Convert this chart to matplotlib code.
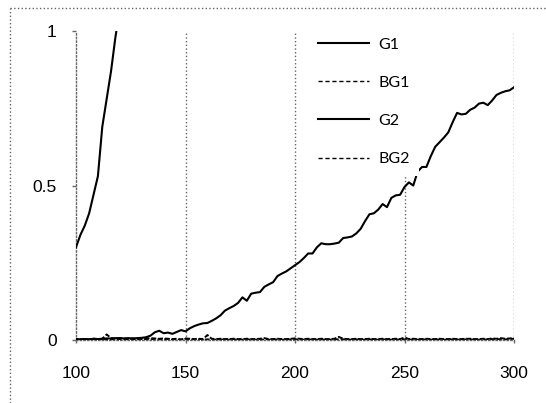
import numpy as np
import matplotlib
matplotlib.use("Agg")
import matplotlib.pyplot as plt
from matplotlib.lines import Line2D

# x positions of the samples
x = np.arange(100, 301, 2)

# G1 only shown until it leaves the top of the axes
g1_x = np.arange(100, 121, 2)
g1 = [0.30, 0.34, 0.37, 0.41, 0.47, 0.53, 0.69, 0.78, 0.87, 0.98, 1.07]

g2 = [0.003, 0.002, 0.003, 0.002, 0.004, 0.003, 0.004, 0.005, 0.005, 0.006,
      0.006, 0.005, 0.006, 0.005, 0.006, 0.007, 0.009, 0.014, 0.025, 0.030,
      0.022, 0.024, 0.020, 0.026, 0.032, 0.028, 0.038, 0.045, 0.050, 0.054,
      0.055, 0.062, 0.070, 0.080, 0.095, 0.103, 0.110, 0.120, 0.138, 0.127,
      0.150, 0.153, 0.155, 0.172, 0.180, 0.187, 0.207, 0.215, 0.222, 0.232,
      0.242, 0.252, 0.265, 0.280, 0.280, 0.300, 0.313, 0.310, 0.310, 0.312,
      0.315, 0.330, 0.332, 0.335, 0.345, 0.360, 0.385, 0.407, 0.410, 0.422,
      0.440, 0.430, 0.460, 0.468, 0.470, 0.495, 0.510, 0.500, 0.545, 0.560,
      0.560, 0.595, 0.625, 0.640, 0.655, 0.672, 0.705, 0.735, 0.730, 0.732,
      0.745, 0.752, 0.765, 0.768, 0.760, 0.775, 0.793, 0.800, 0.805, 0.808,
      0.818]

bg1 = [0.002, 0.002, 0.003, 0.002, 0.004, 0.003, 0.004, 0.018, 0.006, 0.005,
       0.006, 0.005, 0.004, 0.005, 0.003, 0.004, 0.005, 0.006, 0.005, 0.004,
       0.005, 0.004, 0.003, 0.004, 0.002, 0.005, 0.004, 0.003, 0.004, 0.003,
       0.016, 0.004, 0.003, 0.004, 0.003, 0.003, 0.004, 0.003, 0.003, 0.004,
       0.003, 0.003, 0.004, 0.006, 0.003, 0.003, 0.004, 0.003, 0.003, 0.004,
       0.005, 0.004, 0.003, 0.004, 0.003, 0.003, 0.004, 0.003, 0.003, 0.004,
       0.010, 0.004, 0.003, 0.003, 0.004, 0.003, 0.003, 0.004, 0.003, 0.003,
       0.004, 0.003, 0.003, 0.004, 0.003, 0.008, 0.003, 0.004, 0.003, 0.003,
       0.004, 0.003, 0.003, 0.004, 0.003, 0.003, 0.004, 0.003, 0.003, 0.004,
       0.004, 0.003, 0.003, 0.004, 0.003, 0.005, 0.004, 0.006, 0.004, 0.005,
       0.006]

bg2 = [0.001, 0.001, 0.002, 0.001, 0.002, 0.001, 0.002, 0.002, 0.003, 0.002,
       0.003, 0.002, 0.002, 0.003, 0.001, 0.002, 0.003, 0.002, 0.003, 0.002,
       0.003, 0.002, 0.001, 0.002, 0.000, 0.004, 0.002, 0.001, 0.002, 0.001,
       0.002, 0.001, 0.001, 0.002, 0.001, 0.001, 0.002, 0.001, 0.001, 0.002,
       0.001, 0.001, 0.002, 0.001, 0.001, 0.001, 0.002, 0.001, 0.001, 0.002,
       0.002, 0.002, 0.001, 0.002, 0.001, 0.001, 0.002, 0.001, 0.001, 0.002,
       0.002, 0.002, 0.001, 0.001, 0.002, 0.001, 0.001, 0.002, 0.001, 0.001,
       0.002, 0.001, 0.001, 0.002, 0.001, 0.002, 0.001, 0.002, 0.001, 0.001,
       0.002, 0.001, 0.001, 0.002, 0.001, 0.001, 0.002, 0.001, 0.001, 0.002,
       0.002, 0.001, 0.001, 0.002, 0.001, 0.003, 0.002, 0.003, 0.002, 0.003,
       0.004]

xticks = [100, 150, 200, 250, 300]
yticks = [0, 0.5, 1]
ytick_labels = ["0", "0.5", "1"]

W, H = 546, 403
fig = plt.figure(figsize=(W / 100, H / 100), dpi=100)
ax = fig.add_axes([76 / W, 1 - 340 / H, 438 / W, 309 / H])

grid_c = "#666666"
for xv in xticks[1:]:
    ax.axvline(xv, color=grid_c, lw=1, ls=":", zorder=1)

ax.plot(x, bg2, color="black", lw=1.4, ls=(0, (2.5, 1)), zorder=2, label="BG2")
ax.plot(x, bg1, color="black", lw=1.4, ls=(1.5, (2.5, 1)), zorder=2, label="BG1")
ax.plot(x, g2, color="black", lw=1.5, zorder=3, label="G2")
ax.plot(g1_x, g1, color="black", lw=1.5, zorder=3, label="G1")

ax.set_xlim(100, 300)
ax.set_ylim(0, 1)
ax.set_xticks(xticks)
ax.set_yticks(yticks)
ax.set_yticklabels(ytick_labels)

for s in ["top", "right"]:
    ax.spines[s].set_visible(False)
for s in ["left", "bottom"]:
    ax.spines[s].set_color(grid_c)
    ax.spines[s].set_linestyle(":")
    ax.spines[s].set_linewidth(1)

ax.tick_params(axis="y", length=3, width=1, color=grid_c, pad=11,
               labelsize=12.5)
ax.tick_params(axis="x", length=2, width=1, color=grid_c, pad=17,
               labelsize=12.5)
for lab in ax.get_xticklabels() + ax.get_yticklabels():
    lab.set_fontfamily("Liberation Sans")

handles = [
    Line2D([], [], color="black", lw=1.5),
    Line2D([], [], color="black", lw=1.0, ls=(0, (3, 2))),
    Line2D([], [], color="black", lw=1.5),
    Line2D([], [], color="black", lw=1.0, ls=(0, (3, 2))),
]
leg = ax.legend(handles, ["G1", "BG1", "G2", "BG2"], loc="upper left",
                bbox_to_anchor=(308 / W, 1 - 28 / H),
                bbox_transform=fig.transFigure,
                prop={"family": "Lato", "size": 11.5},
                handlelength=3.2, handletextpad=0.6, labelspacing=1.5,
                borderpad=0.6, borderaxespad=0, frameon=True, fancybox=False)
leg.get_frame().set_facecolor("white")
leg.get_frame().set_edgecolor("none")
leg.get_frame().set_alpha(1)
leg.set_zorder(5)

# outer dotted border of the chart area
fig.add_artist(Line2D([10 / W, 10 / W], [0, 1 - 8 / H], transform=fig.transFigure,
                      color=grid_c, lw=1, ls=":"))
fig.add_artist(Line2D([10 / W, 1], [1 - 8 / H, 1 - 8 / H], transform=fig.transFigure,
                      color=grid_c, lw=1, ls=":"))

fig.savefig("out.png", dpi=100)
